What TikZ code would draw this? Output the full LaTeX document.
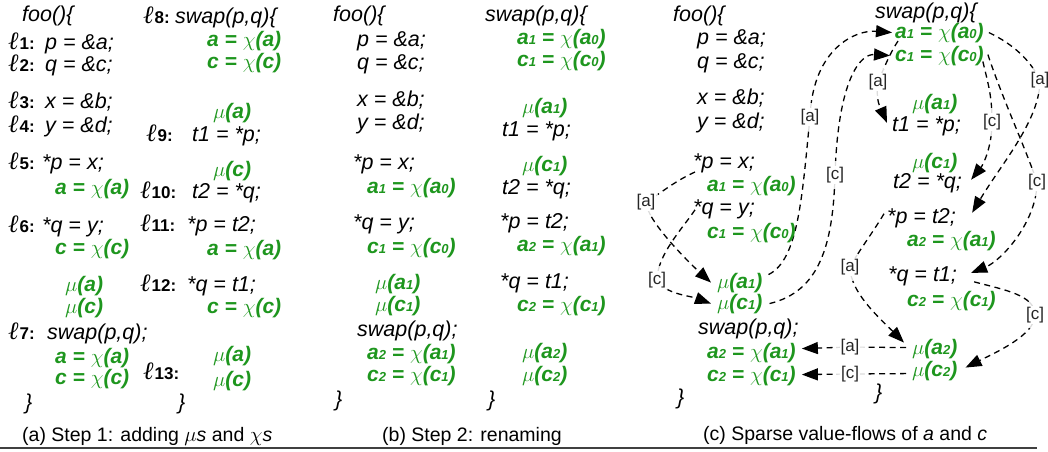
\documentclass[tikz,border=0pt]{standalone}
\usepackage{fontspec}
\setmainfont{Liberation Sans}
\newfontfamily\ellfont{Liberation Serif}
\usetikzlibrary{arrows.meta}
\definecolor{grn}{RGB}{30,150,30}
\pgfdeclarelayer{bg}
\pgfsetlayers{bg,main}
\newcommand\codef{\fontsize{21.5}{24}\selectfont\itshape}
\newcommand\grnf{\fontsize{21}{24}\selectfont\bfseries\itshape}
\newcommand\capf{\fontsize{19.5}{22}\selectfont}
\newcommand\lblf{\fontsize{17}{19}\selectfont}
\newcommand\sbx[1]{\raisebox{-0.8pt}{\fontsize{13}{13}\selectfont #1}}
\newcommand\lab[1]{{\ellfont\itshape\fontsize{25}{25}\selectfont ℓ}\kern1pt{\fontsize{17}{17}\selectfont\bfseries #1:}}
\newcommand\vflow[2]{%
  \draw[flow] #2;
  \fill[white] (#1) circle (14pt);
  \begin{scope}\clip (#1) circle (14pt); \draw[glow] #2; \end{scope}}
\begin{document}
\begin{tikzpicture}[x=1pt,y=-1pt,
  code/.style={anchor=base west, inner sep=0pt, font=\codef},
  grn/.style={anchor=base west, inner sep=0pt, font=\grnf, text=grn},
  lab/.style={anchor=base west, inner sep=0pt},
  captext/.style={anchor=base west, inner sep=0pt, font=\capf},
  flbl/.style={font=\lblf, text=black!85, fill=white, inner sep=1pt},
  flow/.style={line width=1.3pt, dash pattern=on 6pt off 4.5pt, -{Triangle[length=16pt,width=12pt]}},
  glow/.style={line width=1.2pt, black!14}]
\useasboundingbox (0,0) rectangle (1048,451);

% ---------------- panel (a) ----------------
\node[code] (aFoo) at (22,21) {foo()\{};
\node[lab] (aL1) at (8,49) {\lab{1}};   \node[code] (aS1) at (45,49) {p = \&a;};
\node[lab] (aL2) at (8,71) {\lab{2}};   \node[code] (aS2) at (45,71) {q = \&c;};
\node[lab] (aL3) at (8,108) {\lab{3}};  \node[code] (aS3) at (45,108) {x = \&b;};
\node[lab] (aL4) at (8,132) {\lab{4}};  \node[code] (aS4) at (45,132) {y = \&d;};
\node[lab] (aL5) at (8,169) {\lab{5}};  \node[code] (aS5) at (42,169) {*p = x;};
\node[grn] (aX5) at (55,194) {a = $\chi$(a)};
\node[lab] (aL6) at (8,232) {\lab{6}};  \node[code] (aS6) at (42,232) {*q = y;};
\node[grn] (aX6) at (55,254) {c = $\chi$(c)};
\node[grn] (aMa7) at (65,291) {$\mu$(a)};
\node[grn] (aMc7) at (65,313) {$\mu$(c)};
\node[lab] (aL7) at (8,339) {\lab{7}};  \node[code] (aS7) at (47,339) {swap(p,q);};
\node[grn] (aXa7) at (55,363) {a = $\chi$(a)};
\node[grn] (aXc7) at (55,384) {c = $\chi$(c)};
\node[code] (aEnd1) at (25,409) {\}};

\node[lab] (aL8) at (143,23) {\lab{8}}; \node[code] (aS8) at (175,23) {swap(p,q)\{};
\node[grn] (aXa8) at (207,46) {a = $\chi$(a)};
\node[grn] (aXc8) at (207,68) {c = $\chi$(c)};
\node[grn] (aM9) at (213,118) {$\mu$(a)};
\node[lab] (aL9) at (146,141) {\lab{9}};  \node[code] (aS9) at (192,141) {t1 = *p;};
\node[grn] (aM10) at (213,176) {$\mu$(c)};
\node[lab] (aL10) at (140,198) {\lab{10}}; \node[code] (aS10) at (192,198) {t2 = *q;};
\node[lab] (aL11) at (140,231) {\lab{11}}; \node[code] (aS11) at (187,231) {*p = t2;};
\node[grn] (aX11) at (207,255) {a = $\chi$(a)};
\node[lab] (aL12) at (140,291) {\lab{12}}; \node[code] (aS12) at (187,291) {*q = t1;};
\node[grn] (aX12) at (207,313) {c = $\chi$(c)};
\node[grn] (aMa13) at (213,361) {$\mu$(a)};
\node[lab] (aL13) at (143,379) {\lab{13}};
\node[grn] (aMc13) at (213,386) {$\mu$(c)};
\node[code] (aEnd2) at (178,409) {\}};
\node[captext] (capA) at (22,441) {(a) Step 1: adding \textit{$\mu$s} and \textit{$\chi$s}};

% ---------------- panel (b) ----------------
\node[code] (bFoo) at (333,21) {foo()\{};
\node[code] (bS1) at (357,46) {p = \&a;};
\node[code] (bS2) at (357,69) {q = \&c;};
\node[code] (bS3) at (357,106) {x = \&b;};
\node[code] (bS4) at (357,129) {y = \&d;};
\node[code] (bS5) at (353,169) {*p = x;};
\node[grn] (bX5) at (367,193) {a\sbx{1} = $\chi$(a\sbx{0})};
\node[code] (bS6) at (353,229) {*q = y;};
\node[grn] (bX6) at (367,253) {c\sbx{1} = $\chi$(c\sbx{0})};
\node[grn] (bMa7) at (375,289) {$\mu$(a\sbx{1})};
\node[grn] (bMc7) at (375,311) {$\mu$(c\sbx{1})};
\node[code] (bS7) at (357,336) {swap(p,q);};
\node[grn] (bXa7) at (367,359) {a\sbx{2} = $\chi$(a\sbx{1})};
\node[grn] (bXc7) at (367,381) {c\sbx{2} = $\chi$(c\sbx{1})};
\node[code] (bEnd1) at (335,406) {\}};

\node[code] (bS8) at (485,21) {swap(p,q)\{};
\node[grn] (bXa8) at (517,44) {a\sbx{1} = $\chi$(a\sbx{0})};
\node[grn] (bXc8) at (517,66) {c\sbx{1} = $\chi$(c\sbx{0})};
\node[grn] (bM9) at (522,113) {$\mu$(a\sbx{1})};
\node[code] (bS9) at (502,136) {t1 = *p;};
\node[grn] (bM10) at (522,171) {$\mu$(c\sbx{1})};
\node[code] (bS10) at (502,194) {t2 = *q;};
\node[code] (bS11) at (500,228) {*p = t2;};
\node[grn] (bX11) at (517,251) {a\sbx{2} = $\chi$(a\sbx{1})};
\node[code] (bS12) at (500,288) {*q = t1;};
\node[grn] (bX12) at (517,311) {c\sbx{2} = $\chi$(c\sbx{1})};
\node[grn] (bMa13) at (522,358) {$\mu$(a\sbx{2})};
\node[grn] (bMc13) at (522,381) {$\mu$(c\sbx{2})};
\node[code] (bEnd2) at (488,406) {\}};
\node[captext] (capB) at (382,441) {(b) Step 2: renaming};

% ---------------- panel (c) ----------------
\node[code] (cFoo) at (673,21) {foo()\{};
\node[code] (cS1) at (697,44) {p = \&a;};
\node[code] (cS2) at (697,68) {q = \&c;};
\node[code] (cS3) at (697,104) {x = \&b;};
\node[code] (cS4) at (697,128) {y = \&d;};
\node[code] (cPx) at (693,168) {*p = x;};
\node[grn] (cA1) at (707,191) {a\sbx{1} = $\chi$(a\sbx{0})};
\node[code] (cQy) at (693,214) {*q = y;};
\node[grn] (cC1) at (707,238) {c\sbx{1} = $\chi$(c\sbx{0})};
\node[grn] (cMuA1) at (717,288) {$\mu$(a\sbx{1})};
\node[grn] (cMuC1) at (717,309) {$\mu$(c\sbx{1})};
\node[code] (cSwap) at (698,334) {swap(p,q);};
\node[grn] (cA2) at (707,358) {a\sbx{2} = $\chi$(a\sbx{1})};
\node[grn] (cC2) at (707,381) {c\sbx{2} = $\chi$(c\sbx{1})};
\node[code] (cEnd) at (677,404) {\}};

\node[code] (sSwap) at (875,18) {swap(p,q)\{};
\node[grn] (sA1) at (895,38) {a\sbx{1} = $\chi$(a\sbx{0})};
\node[grn] (sC1) at (895,61) {c\sbx{1} = $\chi$(c\sbx{0})};
\node[grn] (sMuA1) at (912,109) {$\mu$(a\sbx{1})};
\node[code] (sT1) at (892,131) {t1 = *p;};
\node[grn] (sMuC1) at (912,168) {$\mu$(c\sbx{1})};
\node[code] (sT2) at (893,188) {t2 = *q;};
\node[code] (sPt2) at (887,223) {*p = t2;};
\node[grn] (sA2) at (907,246) {a\sbx{2} = $\chi$(a\sbx{1})};
\node[code] (sQt1) at (888,281) {*q = t1;};
\node[grn] (sC2) at (907,306) {c\sbx{2} = $\chi$(c\sbx{1})};
\node[grn] (sMuA2) at (912,354) {$\mu$(a\sbx{2})};
\node[grn] (sMuC2) at (912,376) {$\mu$(c\sbx{2})};
\node[code] (sEnd) at (875,399) {\}};
\node[captext] (capC) at (703,440) {(c) Sparse value-flows of \textit{a} and \textit{c}};

% label positions
\coordinate (L1) at (646,202);
\coordinate (L2) at (657,280);
\coordinate (L3) at (810,117);
\coordinate (L4) at (835,175);
\coordinate (L5) at (878,82);
\coordinate (L6) at (992,122);
\coordinate (L7) at (1040,80);
\coordinate (L8) at (1037,182);
\coordinate (L9) at (850,267);
\coordinate (L10) at (1035,315);
\coordinate (L11) at (850,347);
\coordinate (L12) at (850,374);

\begin{pgfonlayer}{bg}
\vflow{L1}{([shift={(2,4)}]cPx.base west) .. controls +(-22,10) and +(14,-8) .. (L1) .. controls +(0,18) and +(-22,-20) .. ([xshift=-6]cMuA1.west)}
\vflow{L2}{([shift={(2,1)}]cQy.west) .. controls +(-12,18) and +(0,-25) .. (L2) .. controls +(8,14) and +(-22,-8) .. ([xshift=-6]cMuC1.west)}
\vflow{L3}{([shift={(6,-8)}]cMuA1.east) .. controls +(30,-15) and +(-8,80) .. (L3) .. controls +(3,-70) and +(-35,-3) .. ([xshift=-3]sA1.west)}
\vflow{L4}{([xshift=7]cMuC1.east) .. controls +(50,-12) and +(-2,70) .. (L4) .. controls +(3,-95) and +(-30,-2) .. ([xshift=-5]sC1.west)}
\vflow{L5}{([shift={(3,3)}]sA1.base west) .. controls +(-8,12) and +(6,-14) .. (L5) .. controls +(-3,18) and +(-6,-14) .. ([shift={(-5,-3)}]sT1.west)}
\vflow{L6}{([shift={(-1,6)}]sC1.east) .. controls +(6,25) and +(0,-25) .. (L6) .. controls +(0,25) and +(12,-15) .. ([shift={(9,-3)}]sT2.east)}
\vflow{L7}{([xshift=5]sA1.east) .. controls +(25,12) and +(-10,-20) .. (L7) .. controls +(0,40) and +(30,-50) .. ([shift={(16,-5)}]sPt2.east)}
\vflow{L8}{([shift={(4,-1)}]sC1.east) .. controls +(15,45) and +(-12,-35) .. (L8) .. controls +(0,40) and +(30,-12) .. ([shift={(14,-3)}]sQt1.east)}
\vflow{L9}{([shift={(-3,-4)}]sPt2.west) .. controls +(-12,20) and +(8,-15) .. (L9) .. controls +(0,25) and +(-25,-25) .. ([shift={(-8,-6)}]sMuA2.west)}
\vflow{L10}{([shift={(17,6)}]sQt1.east) .. controls +(30,8) and +(0,-20) .. (L10) .. controls +(0,20) and +(30,-15) .. ([shift={(8,-3)}]sMuC2.east)}
\vflow{L11}{([shift={(-6,-1)}]sMuA2.west) -- (L11) -- ([shift={(6,-4)}]cA2.east)}
\vflow{L12}{([shift={(-6,3)}]sMuC2.west) -- (L12) -- ([shift={(6,-1)}]cC2.east)}
\end{pgfonlayer}

\node[flbl] (lb1) at (L1) {[a]};
\node[flbl] (lb2) at (L2) {[c]};
\node[flbl] (lb3) at (L3) {[a]};
\node[flbl] (lb4) at (L4) {[c]};
\node[flbl] (lb5) at (L5) {[a]};
\node[flbl] (lb6) at (L6) {[c]};
\node[flbl] (lb7) at (L7) {[a]};
\node[flbl] (lb8) at (L8) {[c]};
\node[flbl] (lb9) at (L9) {[a]};
\node[flbl] (lb10) at (L10) {[c]};
\node[flbl] (lb11) at (L11) {[a]};
\node[flbl] (lb12) at (L12) {[c]};

\draw[line width=1.6pt, black!75] (0,448) -- (1037,448);
\end{tikzpicture}
\end{document}
